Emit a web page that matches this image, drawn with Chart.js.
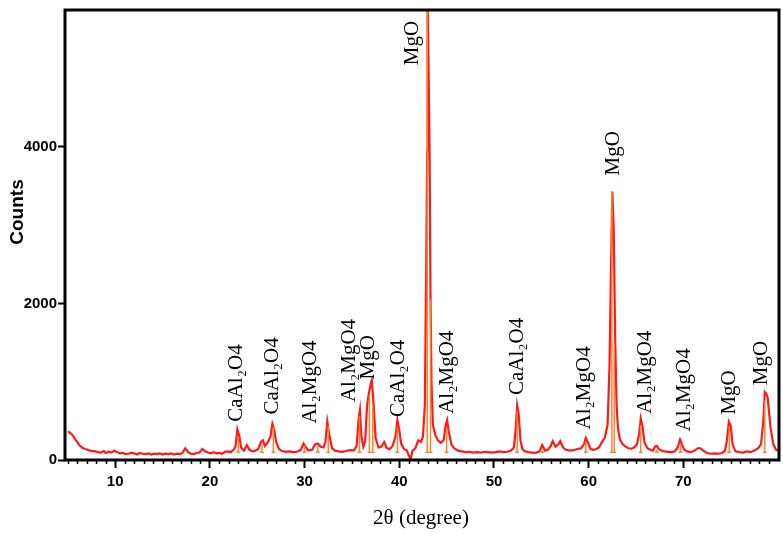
<!DOCTYPE html>
<html>
<head>
<meta charset="utf-8">
<script src="https://cdn.jsdelivr.net/npm/chart.js@4"></script>
<style>
  html, body { margin: 0; padding: 0; background: #fff; }
  #wrap { width: 783px; height: 538px; position: relative; }
</style>
</head>
<body>
<div id="wrap"><canvas id="xrd"></canvas></div>
<script>
// Pattern XRD (2θ in gradi, conteggi)
const twoTheta = [
  5.0, 5.2, 5.4, 5.6, 5.8, 6.0, 6.2, 6.5, 6.8, 7.0, 7.3, 7.6, 7.9, 8.2, 8.5, 8.8, 9.0, 9.3, 9.6, 9.9,
  10.2, 10.5, 10.8, 11.1, 11.4, 11.7, 12.0, 12.3, 12.6, 12.9, 13.2, 13.5, 13.8, 14.1, 14.4, 14.7, 15.0, 15.3, 15.6, 15.9,
  16.2, 16.5, 16.8, 17.1, 17.4, 17.7, 18.0, 18.3, 18.6, 18.9, 19.2, 19.5, 19.8, 20.1, 20.4, 20.7, 21.0, 21.3, 21.6, 21.9,
  22.2, 22.5, 22.7, 22.9, 23.1, 23.3, 23.6, 23.9, 24.2, 24.5, 24.8, 25.1, 25.4, 25.6, 25.8, 26.1, 26.4, 26.6, 26.8, 27.0,
  27.3, 27.6, 28.0, 28.4, 28.8, 29.2, 29.6, 29.9, 30.1, 30.4, 30.8, 31.1, 31.4, 31.7, 32.0, 32.2, 32.4, 32.6, 32.9, 33.2,
  33.6, 34.0, 34.4, 34.8, 35.2, 35.5, 35.7, 35.85, 36.0, 36.2, 36.4, 36.6, 36.8, 37.0, 37.1, 37.3, 37.5, 37.8, 38.1, 38.4,
  38.7, 39.0, 39.3, 39.6, 39.8, 40.0, 40.2, 40.5, 40.8, 41.0, 41.2, 41.4, 41.7, 42.0, 42.3, 42.5, 42.7, 42.85, 42.95, 43.0,
  43.1, 43.2, 43.3, 43.4, 43.55, 43.8, 44.1, 44.4, 44.7, 44.9, 45.05, 45.2, 45.5, 45.8, 46.2, 46.6, 47.0, 47.4, 47.8, 48.2,
  48.6, 49.0, 49.4, 49.8, 50.2, 50.6, 51.0, 51.4, 51.8, 52.1, 52.3, 52.45, 52.6, 52.8, 53.0, 53.3, 53.6, 54.0, 54.4, 54.8,
  55.1, 55.4, 55.7, 56.0, 56.2, 56.5, 56.8, 57.0, 57.3, 57.6, 58.0, 58.4, 58.8, 59.2, 59.5, 59.7, 59.9, 60.2, 60.5, 60.8,
  61.1, 61.4, 61.7, 62.0, 62.2, 62.35, 62.5, 62.65, 62.8, 62.95, 63.1, 63.3, 63.6, 63.9, 64.2, 64.5, 64.8, 65.1, 65.35, 65.5,
  65.7, 65.9, 66.2, 66.5, 66.8, 67.0, 67.2, 67.4, 67.7, 68.0, 68.4, 68.8, 69.1, 69.4, 69.65, 69.85, 70.1, 70.4, 70.8, 71.2,
  71.5, 71.8, 72.1, 72.5, 72.9, 73.3, 73.7, 74.1, 74.4, 74.6, 74.8, 75.0, 75.2, 75.5, 75.9, 76.3, 76.7, 77.1, 77.5, 77.9,
  78.2, 78.45, 78.6, 78.75, 78.9, 79.2, 79.5, 79.8, 80.0
];
const counts = [
  365, 350, 330, 300, 260, 230, 190, 160, 140, 135, 120, 115, 110, 100, 95, 115, 90, 105, 95, 120,
  100, 85, 90, 75, 80, 95, 85, 70, 90, 80, 75, 85, 70, 80, 75, 85, 70, 80, 75, 85,
  70, 80, 75, 90, 150, 100, 80, 75, 90, 95, 140, 110, 95, 85, 100, 85, 90, 80, 105, 110,
  100, 130, 170, 390, 310, 160, 120, 190, 130, 110, 120, 140, 230, 250, 180, 220, 300, 460, 380, 230,
  140, 115, 105, 110, 100, 105, 130, 210, 170, 120, 130, 200, 210, 170, 160, 230, 490, 330, 150, 120,
  110, 105, 115, 125, 120, 180, 520, 640, 300, 170, 240, 700, 860, 980, 1020, 700, 280, 160, 170, 230,
  150, 140, 180, 300, 510, 380, 210, 140, 120, 60, 10, 120, 150, 250, 230, 300, 700, 2500, 3950, 5800,
  4950, 3950, 2100, 1000, 450, 320, 250, 220, 260, 450, 510, 380, 200, 150, 120, 110, 100, 105, 95, 100,
  95, 105, 100, 95, 100, 110, 100, 105, 120, 160, 400, 700, 600, 250, 140, 110, 100, 95, 90, 110,
  190, 120, 130, 180, 240, 170, 200, 240, 160, 130, 120, 125, 140, 150, 200, 280, 230, 140, 130, 140,
  160, 230, 280, 450, 1200, 2380, 3430, 2920, 1550, 700, 400, 260, 200, 170, 150, 145, 160, 200, 350, 530,
  420, 220, 150, 130, 120, 170, 180, 140, 120, 110, 105, 100, 110, 160, 260, 200, 130, 110, 100, 120,
  150, 150, 120, 90, 80, 85, 80, 90, 120, 250, 490, 440, 200, 110, 100, 95, 110, 100, 120, 150,
  200, 500, 870, 850, 800, 420, 200, 130, 120
];

// Righe di riferimento (stick pattern arancione)
const stickPos = [23.0, 25.5, 26.7, 30.0, 31.4, 32.5, 35.8, 36.85, 37.2, 39.8, 42.95, 43.3, 45.0, 52.45, 55.1, 59.7, 62.45, 62.7, 65.5, 67.2, 69.7, 74.85, 78.6];
const stickHeight = [300, 200, 420, 190, 180, 430, 560, 820, 700, 420, 5800, 2050, 400, 620, 130, 230, 3430, 1500, 450, 130, 220, 430, 760];
const stickBase = 100;

// Etichette delle fasi
const phaseLabels = ['CaAl₂O4', 'CaAl₂O4', 'Al₂MgO4', 'Al₂MgO4', 'MgO', 'CaAl₂O4', 'MgO', 'Al₂MgO4', 'CaAl₂O4', 'Al₂MgO4', 'MgO', 'Al₂MgO4', 'Al₂MgO4', 'MgO', 'MgO'];
const phaseLabelX = [22.8, 26.6, 30.6, 34.7, 36.8, 39.9, 41.4, 45.1, 52.5, 59.6, 62.6, 66.0, 70.1, 74.9, 78.3];
const phaseLabelY = [490, 580, 465, 740, 1030, 550, 5045, 590, 830, 390, 3635, 590, 365, 580, 955];

const xTicks = [10, 20, 30, 40, 50, 60, 70];
const yTicks = [0, 2000, 4000];

const X_MIN = 4.7, X_MAX = 80.1, Y_MIN = 0, Y_MAX = 5750;

// Costruisce i punti
const patternPoints = twoTheta.map((t, i) => ({ x: t, y: counts[i] }));
const stickPoints = [];
stickPos.forEach((p, i) => {
    stickPoints.push({ x: p - 0.2, y: stickBase });
    stickPoints.push({ x: p, y: stickBase });
    stickPoints.push({ x: p, y: stickHeight[i] });
    stickPoints.push({ x: p, y: stickBase });
    stickPoints.push({ x: p + 0.2, y: stickBase });
    stickPoints.push({ x: p, y: null });
});

const tickFont = { family: '"Liberation Sans", Arial, sans-serif', size: 15, weight: 'bold' };

/**
 * Plugin: cornice, tacche minori, etichette fasi e titoli assi
 */
const xrdDecor = {
    id: 'xrdDecor',
    afterDraw(chart) {
        const { ctx, chartArea, scales } = chart;
        const xs = scales.x, ys = scales.y;
        ctx.save();

        // Tacche minori asse x
        ctx.strokeStyle = '#000';
        ctx.lineWidth = 1.5;
        for (let v = Math.ceil(X_MIN); v <= X_MAX; v++) {
            if (v % 10 === 0) continue;
            const px = Math.round(xs.getPixelForValue(v)) + 0.5;
            ctx.beginPath();
            ctx.moveTo(px, chartArea.bottom);
            ctx.lineTo(px, chartArea.bottom + 4);
            ctx.stroke();
        }

        // Cornice
        ctx.lineWidth = 3;
        ctx.strokeRect(chartArea.left, chartArea.top, chartArea.right - chartArea.left, chartArea.bottom - chartArea.top);

        // Etichette fasi (ruotate)
        ctx.fillStyle = '#000';
        ctx.font = '21px "Liberation Serif", "Times New Roman", serif';
        ctx.textAlign = 'left';
        ctx.textBaseline = 'middle';
        phaseLabels.forEach((txt, i) => {
            const px = xs.getPixelForValue(phaseLabelX[i]);
            const py = ys.getPixelForValue(phaseLabelY[i]);
            ctx.save();
            ctx.translate(px, py);
            ctx.rotate(-Math.PI / 2);
            ctx.fillText(txt, 0, 0);
            ctx.restore();
        });

        // Titolo asse y
        ctx.save();
        ctx.font = 'bold 19px "Liberation Sans", Arial, sans-serif';
        ctx.textAlign = 'center';
        ctx.textBaseline = 'middle';
        ctx.translate(18, 212);
        ctx.rotate(-Math.PI / 2);
        ctx.fillText('Counts', 0, 0);
        ctx.restore();

        // Titolo asse x
        ctx.font = '21px "Liberation Serif", "Times New Roman", serif';
        ctx.textAlign = 'center';
        ctx.textBaseline = 'middle';
        ctx.fillText('2θ (degree)', 421, 518);

        ctx.restore();
    }
};

new Chart(document.getElementById('xrd'), {
    type: 'line',
    data: {
        datasets: [
            {
                label: 'Reference',
                data: stickPoints,
                borderColor: '#f7862e',
                borderWidth: 1.5,
                pointRadius: 0,
                spanGaps: false,
                tension: 0,
                order: 0
            },
            {
                label: 'Pattern',
                data: patternPoints,
                borderColor: '#ff1a1a',
                borderWidth: 2.2,
                pointRadius: 0,
                tension: 0,
                order: 1
            }
        ]
    },
    options: {
        responsive: true,
        maintainAspectRatio: false,
        animation: false,
        layout: { padding: { left: 0, right: 4, top: 4, bottom: 0 } },
        plugins: {
            legend: { display: false },
            tooltip: { enabled: false }
        },
        scales: {
            x: {
                type: 'linear',
                min: X_MIN,
                max: X_MAX,
                afterBuildTicks: (scale) => { scale.ticks = xTicks.map(v => ({ value: v })); },
                afterFit: (scale) => { scale.height = 78; },
                border: { display: false },
                grid: {
                    drawOnChartArea: false,
                    drawTicks: true,
                    tickLength: 8,
                    tickWidth: 2,
                    tickColor: '#000'
                },
                ticks: {
                    font: tickFont,
                    color: '#000',
                    padding: 5,
                    maxRotation: 0,
                    autoSkip: false,
                    callback: (v) => String(v)
                }
            },
            y: {
                type: 'linear',
                min: Y_MIN,
                max: Y_MAX,
                afterBuildTicks: (scale) => { scale.ticks = yTicks.map(v => ({ value: v })); },
                afterFit: (scale) => { scale.width = 65; },
                border: { display: false },
                grid: {
                    drawOnChartArea: false,
                    drawTicks: true,
                    tickLength: 7,
                    tickWidth: 2,
                    tickColor: '#000'
                },
                ticks: {
                    font: tickFont,
                    color: '#000',
                    padding: 1,
                    autoSkip: false,
                    callback: (v) => String(v)
                }
            }
        }
    },
    plugins: [xrdDecor]
});
</script>
</body>
</html>
